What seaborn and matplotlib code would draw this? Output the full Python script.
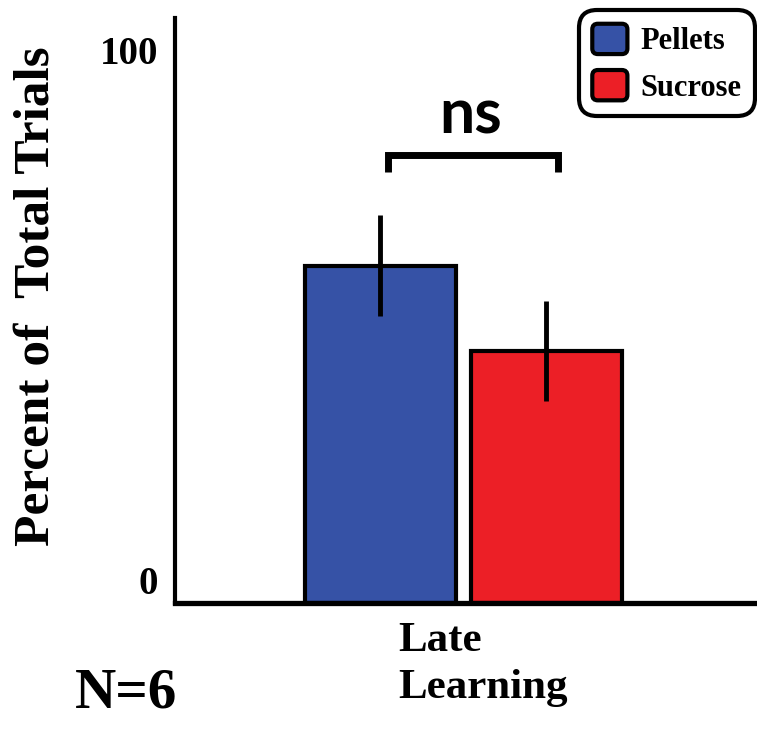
import matplotlib
matplotlib.use("Agg")
import matplotlib.pyplot as plt
import matplotlib.transforms as mtransforms
from matplotlib.patches import FancyBboxPatch
from matplotlib.legend_handler import HandlerPatch
import seaborn as sns
import pandas as pd

# ---- data ----
phases = ["Late\nLearning"]
foods = ["Pellets", "Sucrose"]
means = [61.0, 45.6]
sems = [9.1, 9.0]
ytick_vals = [0, 100]
ytick_labels = ["0", "100"]
sig_label = "ns"
n_label = "N=6"
ylabel = "Percent of  Total Trials"

colors = ["#3652A6", "#EC1F26"]

df = pd.DataFrame({"phase": [phases[0]] * len(foods), "food": foods, "value": means})

sns.set_style("white")
plt.rcParams["font.family"] = ["Liberation Serif", "DejaVu Serif"]
plt.rcParams["font.weight"] = "bold"
plt.rcParams["text.color"] = "black"
plt.rcParams["axes.labelcolor"] = "black"
plt.rcParams["xtick.color"] = "black"
plt.rcParams["ytick.color"] = "black"

fig = plt.figure(figsize=(7.57, 7.38), dpi=100)
ax = fig.add_axes([175 / 757, 1 - 603 / 738, 1 - 175 / 757, (603 - 18) / 738])

sns.barplot(data=df, x="phase", y="value", hue="food", palette=colors,
            saturation=1, width=0.8, gap=0.09, edgecolor="black", linewidth=3,
            errorbar=None, ax=ax, legend=False)

# error bars from bar positions
for cont, m, s in zip(ax.containers, means, sems):
    for bar in cont:
        xc = bar.get_x() + bar.get_width() / 2
        ax.errorbar(xc, m, yerr=s, fmt="none", ecolor="black", elinewidth=3.5, capsize=0, zorder=5)

ax.set_xlim(-0.694, 0.708)
ax.set_ylim(0, 105.8)

for side in ["top", "right"]:
    ax.spines[side].set_visible(False)
ax.spines["left"].set_linewidth(3)
ax.spines["bottom"].set_linewidth(3.8)
ax.spines["left"].set_color("black")
ax.spines["bottom"].set_color("black")

ax.set_yticks(ytick_vals)
ax.set_yticklabels(ytick_labels, fontsize=28, fontweight="bold")
ax.tick_params(axis="y", length=0, pad=12)
ax.tick_params(axis="x", length=0, pad=14)
lbl0 = ax.get_yticklabels()[0]
lbl0.set_transform(lbl0.get_transform() + mtransforms.ScaledTranslation(0, 23 / 100, fig.dpi_scale_trans))

ax.set_xlabel("")
for t in ax.get_xticklabels():
    t.set_fontsize(31)
    t.set_fontweight("bold")
    t.set_multialignment("left")
    t.set_linespacing(1.3)
    t.set_transform(t.get_transform() + mtransforms.ScaledTranslation(20 / 100, 0, fig.dpi_scale_trans))

ax.set_ylabel(ylabel, fontsize=37, fontweight="bold")
ax.yaxis.set_label_coords((60 - 175) / 582, (603 - 296) / 585)

# significance bracket
ax.plot([-0.181, -0.181, 0.229, 0.229], [77.9, 81, 81, 77.9], color="black", lw=5,
        solid_joinstyle="miter", solid_capstyle="butt")
ax.text(0.017, 85, sig_label, ha="center", va="baseline", fontsize=45,
        fontweight="bold", family=["Lato", "DejaVu Sans"])

fig.text(75 / 757, 1 - 707 / 738, n_label, ha="left", va="baseline", fontsize=41, fontweight="bold")


class RoundHandler(HandlerPatch):
    def create_artists(self, legend, orig_handle, xdescent, ydescent, width, height, fontsize, trans):
        p = FancyBboxPatch((-xdescent, -ydescent), width, height,
                           boxstyle="round,pad=0,rounding_size=4",
                           facecolor=orig_handle.get_facecolor(), edgecolor="black",
                           linewidth=3, transform=trans)
        return [p]


handles = [ax.containers[i][0] for i in range(len(foods))]
leg = ax.legend(handles, foods, handler_map={type(handles[0]): RoundHandler()},
                loc="upper right", bbox_to_anchor=(1 - 2 / 757, 1 - 10 / 738),
                bbox_transform=fig.transFigure, borderaxespad=0,
                prop={"family": ["Liberation Serif"], "weight": "bold", "size": 22},
                handlelength=1.15, handleheight=1.15, handletextpad=0.42,
                labelspacing=0.45, borderpad=0.45, frameon=True, fancybox=True,
                framealpha=1)
frame = leg.get_frame()
frame.set_edgecolor("black")
frame.set_linewidth(3)
frame.set_boxstyle("round,pad=0,rounding_size=0.6")

fig.savefig("out.png", dpi=100)
